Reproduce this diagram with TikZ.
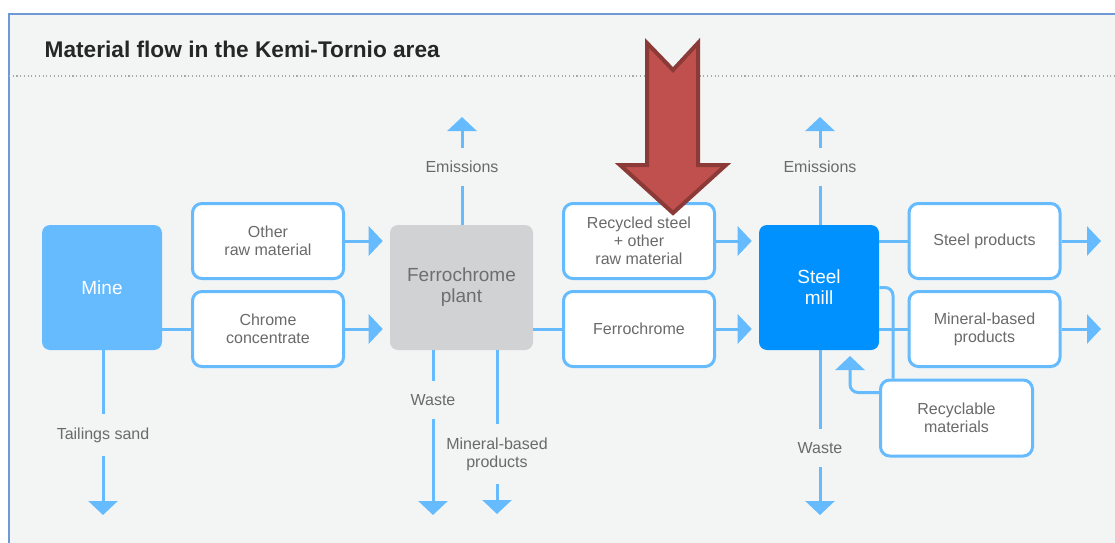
\documentclass[tikz,border=0pt]{standalone}
\usepackage{fontspec}
\setmainfont{Liberation Sans}
\usepackage{tikz}
\usetikzlibrary{arrows.meta,positioning}
\definecolor{flowblue}{HTML}{66BBFF}
\definecolor{millblue}{HTML}{0091FF}
\definecolor{plantgray}{HTML}{D1D2D4}
\definecolor{planttext}{HTML}{6E6E6E}
\definecolor{labelgray}{HTML}{6A6A6A}
\definecolor{titlegray}{HTML}{262626}
\definecolor{panelbg}{HTML}{F3F5F5}
\definecolor{frameblue}{HTML}{6F99D6}
\definecolor{dotgray}{HTML}{A8A8A8}
\definecolor{redfill}{HTML}{C0504D}
\definecolor{redline}{HTML}{8C3A37}

\begin{document}
\begin{tikzpicture}[
  x=0.75pt, y=-0.75pt,
  block/.style={rectangle, rounded corners=6pt, minimum width=90pt, minimum height=93.75pt,
    align=center, inner sep=0pt, font=\fontsize{14.25}{15.75}\selectfont},
  flowbox/.style={rectangle, rounded corners=7pt, draw=flowblue, line width=2.25pt, fill=white,
    minimum width=113.25pt, minimum height=56.25pt, align=center, inner sep=0pt,
    text=labelgray, font=\fontsize{12}{13.5}\selectfont},
  flowlabel/.style={align=center, inner xsep=0pt, inner ysep=10pt, text=labelgray,
    font=\fontsize{12}{13.5}\selectfont},
  flow/.style={draw=flowblue, line width=2.25pt},
  arr/.style={flow, -{Triangle[length=10.5pt,width=21.75pt]}}
]
\useasboundingbox (0,0) rectangle (1115,543);
% panel
\fill[panelbg] (9,14) rectangle (1115,543);
\draw[frameblue, line width=1.2pt] (9,543) -- (9,14) -- (1115,14);
\draw[dotgray, dotted, line width=0.8pt] (9,76) -- (1115,76);
\node[anchor=west, text=titlegray, font=\bfseries\fontsize{17}{19}\selectfont] (title) at (40,49)
  {Material flow in the Kemi-Tornio area};

% main blocks
\node[block, fill=flowblue, text=white] (mine) at (102,287.5) {Mine};
\node[block, fill=plantgray, text=planttext, minimum width=107.25pt] (plant) at (461.5,287.5) {Ferrochrome\\plant};
\node[block, fill=millblue, text=white] (mill) at (819,287.5) {Steel\\mill};

% flow boxes
\node[flowbox] (otherraw) at (268,241) {Other\\raw material};
\node[flowbox] (chrome) at (268,329) {Chrome\\concentrate};
\node[flowbox] (recycled) at (639,241) {Recycled steel\\+ other\\raw material};
\node[flowbox] (ferro) at (639,329) {Ferrochrome};
\node[flowbox] (steelprod) at (984.5,241) {Steel products};
\node[flowbox] (minprod) at (984.5,329) {Mineral-based\\products};
\node[flowbox, minimum width=114pt, minimum height=57pt] (recyc) at (956.5,418) {Recyclable\\materials};

% outflow labels
\node[flowlabel] (emisfc) at (462,167) {Emissions};
\node[flowlabel] (emismill) at (820,167) {Emissions};
\node[flowlabel] (tailings) at (103,435) {Tailings sand};
\node[flowlabel] (wastefc) at (433,400) {Waste};
\node[flowlabel] (mineralfc) at (497,454) {Mineral-based\\products};
\node[flowlabel] (wastemill) at (820,448) {Waste};

% free ends
\coordinate (emisfcend) at (462,117);
\coordinate (emismillend) at (820,117);
\coordinate (tailingsend) at (103,515);
\coordinate (wastefcend) at (433,515);
\coordinate (mineralfcend) at (497,514);
\coordinate (wastemillend) at (820,515);
\coordinate (steelprodend) at (1101,241);
\coordinate (minprodend) at (1101,329);
\coordinate (recycend) at (850,356);

% connectors
\draw[flow] (mine.east |- chrome) -- (chrome.west);
\draw[arr, shorten >=5.25pt] (otherraw.east) -- (plant.west |- otherraw.east);
\draw[arr, shorten >=5.25pt] (chrome.east) -- (plant.west |- chrome.east);
\draw[flow] (plant.east |- ferro) -- (ferro.west);
\draw[arr, shorten >=5.25pt] (recycled.east) -- (mill.west |- recycled.east);
\draw[arr, shorten >=5.25pt] (ferro.east) -- (mill.west |- ferro.east);
\draw[flow] (mill.east |- steelprod) -- (steelprod.west);
\draw[flow] (mill.east |- minprod) -- (minprod.west);
\draw[arr] (steelprod.east) -- (steelprodend);
\draw[arr] (minprod.east) -- (minprodend);
\draw[flow, rounded corners=6pt] (mill.east) -| ([xshift=10.5pt]recyc.north west);
\draw[arr, rounded corners=6pt] ([yshift=-10.5pt]recyc.north west) -| (recycend);

\draw[flow] (plant.north -| emisfc) -- (emisfc.south);
\draw[arr] (emisfc.north) -- (emisfcend);
\draw[flow] (mill.north -| emismill) -- (emismill.south);
\draw[arr] (emismill.north) -- (emismillend);
\draw[flow] (mine.south -| tailings) -- (tailings.north);
\draw[arr] (tailings.south) -- (tailingsend);
\draw[flow] (plant.south -| wastefc) -- (wastefc.north);
\draw[arr] (wastefc.south) -- (wastefcend);
\draw[flow] (plant.south -| mineralfc) -- (mineralfc.north);
\draw[arr] (mineralfc.south) -- (mineralfcend);
\draw[flow] (mill.south -| wastemill) -- (wastemill.north);
\draw[arr] (wastemill.south) -- (wastemillend);

% red marker arrow
\draw[redline, fill=redfill, line width=3pt, line join=miter]
  (647,43) -- (673,70) -- (698,43) -- (698,165) -- (726,165) -- (673,213) -- (620,165) -- (647,165) -- cycle;
\end{tikzpicture}
\end{document}
